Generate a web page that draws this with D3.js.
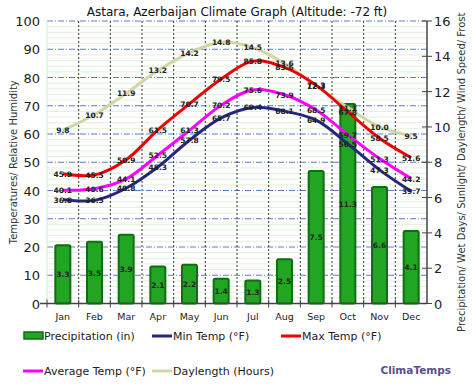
<!DOCTYPE html>
<html>
<head>
<meta charset="utf-8">
<script src="https://cdn.jsdelivr.net/npm/d3@7"></script>
<style>
  body { margin: 0; background: #fff; }
  svg { font-family: Verdana, "DejaVu Sans", sans-serif; }
</style>
</head>
<body>
<svg id="chart" width="474" height="389"></svg>
<script>
const months = ['Jan', 'Feb', 'Mar', 'Apr', 'May', 'Jun', 'Jul', 'Aug', 'Sep', 'Oct', 'Nov', 'Dec'];
const precip = [3.3, 3.5, 3.9, 2.1, 2.2, 1.4, 1.3, 2.5, 7.5, 11.3, 6.6, 4.1];
const minTemp = [36.8, 36.5, 40.8, 48.3, 57.8, 65.7, 69.4, 68.1, 64.9, 56.5, 47.3, 39.7];
const maxTemp = [45.9, 45.5, 50.9, 61.5, 70.7, 79.5, 85.8, 83.6, 77.3, 67.8, 58.5, 51.6];
const avgTemp = [40.1, 40.6, 44.1, 52.5, 61.3, 70.2, 75.6, 73.9, 68.5, 59.7, 51.3, 44.2];
const daylength = [9.8, 10.7, 11.9, 13.2, 14.2, 14.8, 14.5, 13.6, 12.3, 11.1, 10.0, 9.5];
const leftTicks = [0, 10, 20, 30, 40, 50, 60, 70, 80, 90, 100];
const rightTicks = [0, 2, 4, 6, 8, 10, 12, 14, 16];

const svg = d3.select('#chart');
const plotLeft = 47, plotRight = 427, plotTop = 21, plotBottom = 303.5;

const x = d3.scaleBand().domain(months).range([plotLeft, plotRight]);
const yL = d3.scaleLinear().domain([0, 100]).range([plotBottom, plotTop]);
const yR = d3.scaleLinear().domain([0, 16]).range([plotBottom, plotTop]);

// title
svg.append('text')
  .attr('x', 237).attr('y', 16)
  .attr('text-anchor', 'middle')
  .attr('font-size', 12)
  .attr('fill', '#111')
  .text('Astara, Azerbaijan Climate Graph (Altitude: -72 ft)');

// minor grid (light green)
const grid = svg.append('g');
d3.range(0, 101, 2).forEach(v => {
  if (v % 10 === 0) return;
  grid.append('line')
    .attr('x1', plotLeft).attr('x2', plotRight)
    .attr('y1', yL(v)).attr('y2', yL(v))
    .attr('stroke', '#dff2dc').attr('stroke-width', 1);
});
// major grid (blue dash-dot)
leftTicks.slice(1).forEach(v => {
  grid.append('line')
    .attr('x1', plotLeft).attr('x2', plotRight)
    .attr('y1', yL(v)).attr('y2', yL(v))
    .attr('stroke', '#5a7ec8').attr('stroke-width', 1)
    .attr('stroke-dasharray', '6,2,1,2');
});
// vertical dotted lines between months
months.slice(1).forEach(m => {
  grid.append('line')
    .attr('x1', x(m)).attr('x2', x(m))
    .attr('y1', plotTop).attr('y2', plotBottom)
    .attr('stroke', '#333').attr('stroke-width', 1)
    .attr('stroke-dasharray', '2,2');
});
// left edge light green
grid.append('line')
  .attr('x1', plotLeft).attr('x2', plotLeft).attr('y1', plotTop).attr('y2', plotBottom)
  .attr('stroke', '#cdeccb');

// bars
const bw = 15;
svg.append('g').selectAll('rect')
  .data(precip)
  .enter()
  .append('rect')
  .attr('x', (d, i) => x(months[i]) + x.bandwidth() / 2 - bw / 2)
  .attr('y', d => yR(d))
  .attr('width', bw)
  .attr('height', d => yR(0) - yR(d))
  .attr('rx', 1.5)
  .attr('fill', '#22a522')
  .attr('stroke', '#0f6e12')
  .attr('stroke-width', 2);

// axes
const xAxis = svg.append('g');
xAxis.append('line')
  .attr('x1', plotLeft - 7).attr('x2', plotRight).attr('y1', plotBottom).attr('y2', plotBottom)
  .attr('stroke', '#444').attr('stroke-width', 1.5);
months.forEach((m, i) => {
  xAxis.append('line')
    .attr('x1', x(m)).attr('x2', x(m)).attr('y1', plotBottom - 4).attr('y2', plotBottom + 4)
    .attr('stroke', '#444');
  xAxis.append('text')
    .attr('x', x(m) + x.bandwidth() / 2).attr('y', plotBottom + 16)
    .attr('text-anchor', 'middle').attr('font-size', 9.5).attr('fill', '#222')
    .text(m);
});

leftTicks.forEach(v => {
  svg.append('text')
    .attr('x', 40).attr('y', yL(v) + 5)
    .attr('text-anchor', 'end').attr('font-size', 13).attr('fill', '#222')
    .text(v);
});

svg.append('line')
  .attr('x1', plotRight).attr('x2', plotRight).attr('y1', plotTop).attr('y2', plotBottom)
  .attr('stroke', '#444').attr('stroke-width', 1.5);
rightTicks.forEach(v => {
  svg.append('line')
    .attr('x1', plotRight - 5).attr('x2', plotRight + 5).attr('y1', yR(v)).attr('y2', yR(v))
    .attr('stroke', '#444');
  svg.append('text')
    .attr('x', 434).attr('y', yR(v) + 5)
    .attr('font-size', 13).attr('fill', '#222')
    .text(v);
});

svg.append('text')
  .attr('transform', `translate(17,${(plotTop + plotBottom) / 2}) rotate(-90)`)
  .attr('text-anchor', 'middle').attr('font-size', 10).attr('fill', '#333')
  .text('Temperatures/ Relative Humidity');
svg.append('text')
  .attr('transform', `translate(465,${(plotTop + plotBottom) / 2 + 10}) rotate(-90)`)
  .attr('text-anchor', 'middle').attr('font-size', 10).attr('fill', '#333')
  .text('Precipitation/ Wet Days/ Sunlight/ Daylength/ Wind Speed/ Frost');

// lines
const series = [
  { values: daylength, scale: yR, color: '#d2d6a4' },
  { values: maxTemp, scale: yL, color: '#ee0000' },
  { values: avgTemp, scale: yL, color: '#ff00ff' },
  { values: minTemp, scale: yL, color: '#262680' },
];
const cx = i => x(months[i]) + x.bandwidth() / 2;
series.forEach(s => {
  const line = d3.line()
    .x((d, i) => cx(i))
    .y(d => s.scale(d))
    .curve(d3.curveCatmullRom.alpha(0.5));
  svg.append('path')
    .datum(s.values)
    .attr('d', line)
    .attr('fill', 'none')
    .attr('stroke', s.color)
    .attr('stroke-width', 3);
});

// point labels
const labels = svg.append('g')
  .attr('font-size', 7.5).attr('font-weight', 'bold').attr('fill', '#222')
  .attr('text-anchor', 'middle');
series.forEach(s => {
  s.values.forEach((v, i) => {
    labels.append('text')
      .attr('x', cx(i)).attr('y', s.scale(v) + 3)
      .text(v.toFixed(1));
  });
});
precip.forEach((v, i) => {
  labels.append('text')
    .attr('x', cx(i)).attr('y', yR(v / 2) + 3)
    .text(v.toFixed(1));
});

// legend
const legend = svg.append('g').attr('font-size', 11).attr('fill', '#222');
const items = [
  { label: 'Precipitation (in)', x: 23, y: 336, type: 'bar', color: '#22a522' },
  { label: 'Min Temp (°F)', x: 152, y: 336, color: '#262680' },
  { label: 'Max Temp (°F)', x: 281, y: 336, color: '#ee0000' },
  { label: 'Average Temp (°F)', x: 23, y: 371, color: '#ff00ff' },
  { label: 'Daylength (Hours)', x: 152, y: 371, color: '#d2d6a4' },
];
items.forEach(it => {
  if (it.type === 'bar') {
    legend.append('rect')
      .attr('x', it.x + 1).attr('y', it.y - 4).attr('width', 19).attr('height', 7)
      .attr('fill', it.color).attr('stroke', '#0f6e12').attr('stroke-width', 1.5);
  } else {
    legend.append('line')
      .attr('x1', it.x).attr('x2', it.x + 20).attr('y1', it.y).attr('y2', it.y)
      .attr('stroke', it.color).attr('stroke-width', 3);
  }
  legend.append('text')
    .attr('x', it.x + 21).attr('y', it.y + 4)
    .text(it.label);
});

svg.append('text')
  .attr('x', 451).attr('y', 374)
  .attr('text-anchor', 'end').attr('font-size', 10.5).attr('font-weight', 'bold')
  .attr('fill', '#5b4f8c')
  .text('ClimaTemps');
</script>
</body>
</html>
